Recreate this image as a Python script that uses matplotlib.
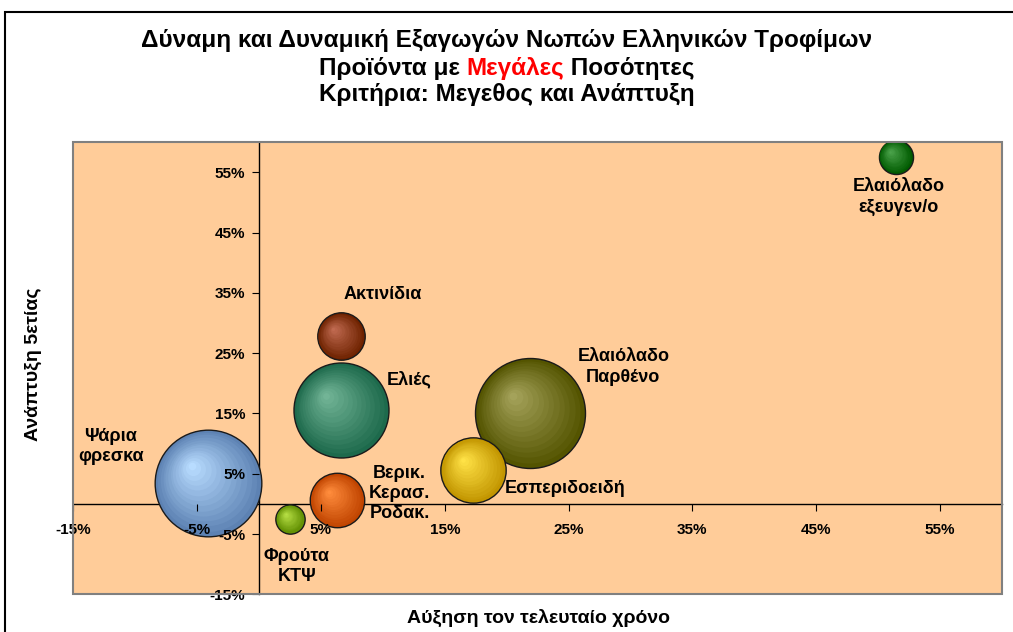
import numpy as np
import matplotlib
matplotlib.use('Agg')
import matplotlib.pyplot as plt
import matplotlib.transforms as mtransforms
from matplotlib.patches import Rectangle
from matplotlib.colors import to_rgb

plt.rcParams['font.family'] = ['Liberation Sans', 'DejaVu Sans']
plt.rcParams['font.weight'] = 'bold'

# data (percent)
products = ['Ψάρια\nφρεσκα', 'Φρούτα\nΚΤΨ', 'Βερικ.\nΚερασ.\nΡοδακ.', 'Ακτινίδια',
            'Ελιές', 'Ελαιόλαδο\nΠαρθένο', 'Εσπεριδοειδή', 'Ελαιόλαδο\nεξευγεν/ο']
growth_last_year = [-4.1, 2.5, 6.3, 6.6, 6.6, 21.9, 17.3, 51.4]
growth_5yr = [3.5, -2.5, 0.6, 27.8, 15.5, 15.1, 5.6, 57.6]
volume = [94, 7.1, 24.5, 18.6, 74.6, 100, 35.3, 9.6]

xticks = [-15, -5, 5, 15, 25, 35, 45, 55]
yticks = [-15, -5, 5, 15, 25, 35, 45, 55]

# styling
dark_cols = ['#5d82b3', '#5e8c00', '#c04400', '#6e2200', '#1d6a4c', '#545400', '#c29500', '#005a00']
light_cols = ['#b8dcff', '#b6de44', '#ff8c3c', '#c06a50', '#72b496', '#a4a25a', '#ffe246', '#4aa24a']
label_off = [(-70, 26), (5, -34), (45, 5), (30, 30), (49, 22), (67, 33), (66, -13), (2, -29)]

fig = plt.figure(figsize=(10.13, 6.32), dpi=100)
ax = fig.add_axes([73.3/1013, 1-594.3/632, 928.7/1013, 452/632])
ax.set_facecolor('#ffcc99')
ax.set_xlim(-15, 60)
ax.set_ylim(-15, 60)

for s in ['top', 'right']:
    ax.spines[s].set_visible(False)
ax.spines['left'].set_position(('data', 0))
ax.spines['bottom'].set_position(('data', 0))
for s in ['left', 'bottom']:
    ax.spines[s].set_zorder(1.5)
    ax.spines[s].set_linewidth(1.0)

ax.set_xticks(xticks)
ax.set_yticks(yticks)
ax.set_xticklabels([f'{v}%' for v in xticks])
ax.set_yticklabels([f'{v}%' for v in yticks])
ax.tick_params(axis='both', direction='out', length=5, labelsize=11)
ax.tick_params(axis='x', pad=9)
ax.tick_params(axis='y', pad=5)
ax.xaxis.set_zorder(3)
ax.yaxis.set_zorder(3)

ax.add_patch(Rectangle((0, 0), 1, 1, transform=ax.transAxes, fill=False,
                       edgecolor='#808080', linewidth=1.5, clip_on=False, zorder=5))

# bubbles with a simple radial shading
max_r_px = 55
n = 14
for i in range(len(products)):
    x, y = growth_last_year[i], growth_5yr[i]
    r_pt = np.sqrt(volume[i] / 100) * max_r_px * 0.72
    s = (2 * r_pt) ** 2
    d = np.array(to_rgb(dark_cols[i]))
    l = np.array(to_rgb(light_cols[i]))
    ax.scatter([x], [y], s=s, color=d, edgecolors='#1a1a1a', linewidths=1.0, zorder=2)
    for k in range(1, n):
        f = 1 - k / n
        off = (1 - f) * r_pt * 0.33
        tr = mtransforms.offset_copy(ax.transData, fig=fig, x=-off, y=off, units='points')
        col = d + (l - d) * (k / (n - 1))
        ax.scatter([x], [y], s=s * f * f, color=col, linewidths=0, transform=tr, zorder=2)
    ax.annotate(products[i], (x, y), xytext=label_off[i], textcoords='offset points',
                ha='center', va='center', multialignment='center', fontsize=13,
                linespacing=1.25, zorder=6)

# titles
fig.text(0.5, 1-41/632, 'Δύναμη και Δυναμική Εξαγωγών Νωπών Ελληνικών Τροφίμων',
         ha='center', va='center', fontsize=17.5)
fig.text(0.5, 1-95/632, 'Κριτήρια: Μεγεθος και Ανάπτυξη', ha='center', va='center', fontsize=17.5)
parts = ['Προϊόντα με ', 'Μεγάλες', ' Ποσότητες']
pcols = ['black', '#ff0000', 'black']
fig.canvas.draw()
rend = fig.canvas.get_renderer()
texts = [fig.text(0, 1-68/632, p, ha='left', va='center', fontsize=17.5, color=c)
         for p, c in zip(parts, pcols)]
widths = [t.get_window_extent(rend).width for t in texts]
x0 = 1013/2 - sum(widths)/2
for t, w in zip(texts, widths):
    t.set_x(x0 / 1013)
    x0 += w

fig.text(538/1013, 1-618/632, 'Αύξηση τον τελευταίο χρόνο', ha='center', va='center', fontsize=14)
fig.text(33/1013, 1-364/632, 'Ανάπτυξη 5ετίας', ha='center', va='center', fontsize=14, rotation=90)

# outer chart frame
fig.patches.append(Rectangle((5/1013, -0.1), 1.2, 1.1 - 12/632, transform=fig.transFigure,
                             fill=False, edgecolor='black', linewidth=1.5))

fig.savefig('out.png', dpi=100)
